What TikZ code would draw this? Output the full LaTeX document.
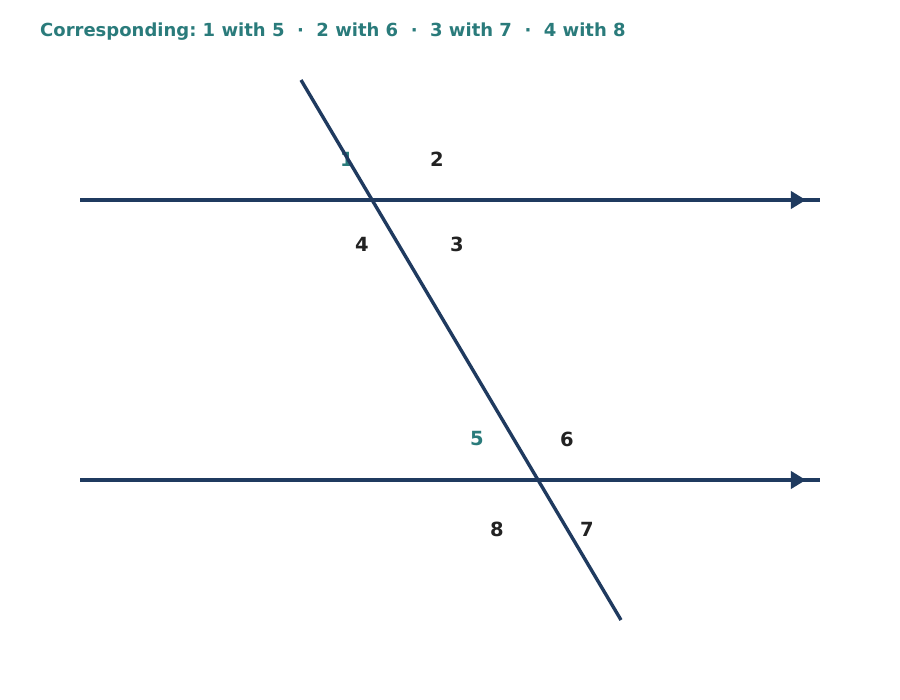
\documentclass[tikz,border=0pt]{standalone}
\usepackage{fontspec}
\setmainfont{DejaVu Sans}
\usetikzlibrary{arrows.meta,decorations.markings}
\frenchspacing
\definecolor{teal}{HTML}{2A7B7B}
\definecolor{navy}{HTML}{1F3A5F}
\definecolor{ink}{HTML}{222222}
\tikzset{
  parline/.style={draw=navy,line width=4bp,
    postaction={decorate},
    decoration={markings,mark=at position 0.981 with {\arrow{Triangle[length=15bp,width=17bp]}}}},
  trans/.style={draw=navy,line width=3.4bp},
  anglab/.style={font=\bfseries\fontsize{19.5bp}{22bp}\selectfont,text=ink,inner sep=0pt},
  hilab/.style={anglab,text=teal},
  title/.style={font=\bfseries\fontsize{18bp}{21bp}\selectfont,text=teal,inner sep=0pt,anchor=west}
}
\begin{document}
\begin{tikzpicture}[x=1bp,y=-1bp]
\useasboundingbox (0,0) rectangle (900,700);
\node[title] (t) at (40,32) {Corresponding: 1 with 5 \ · \ 2 with 6 \ · \ 3 with 7 \ · \ 4 with 8};
\coordinate (a1) at (80,200); \coordinate (a2) at (820,200);
\coordinate (b1) at (80,480); \coordinate (b2) at (820,480);
\coordinate (t1) at (301,80); \coordinate (t2) at (621,620);
\node[hilab] (l1) at (347,159) {1};
\node[anglab] (l2) at (437,159) {2};
\node[anglab] (l3) at (457,244) {3};
\node[anglab] (l4) at (362,244) {4};
\node[hilab] (l5) at (477,439) {5};
\node[anglab] (l6) at (567,439) {6};
\node[anglab] (l7) at (587,529) {7};
\node[anglab] (l8) at (497,529) {8};
\draw[parline] (a1) -- (a2);
\draw[parline] (b1) -- (b2);
\draw[trans] (t1) -- (t2);
\end{tikzpicture}
\end{document}
